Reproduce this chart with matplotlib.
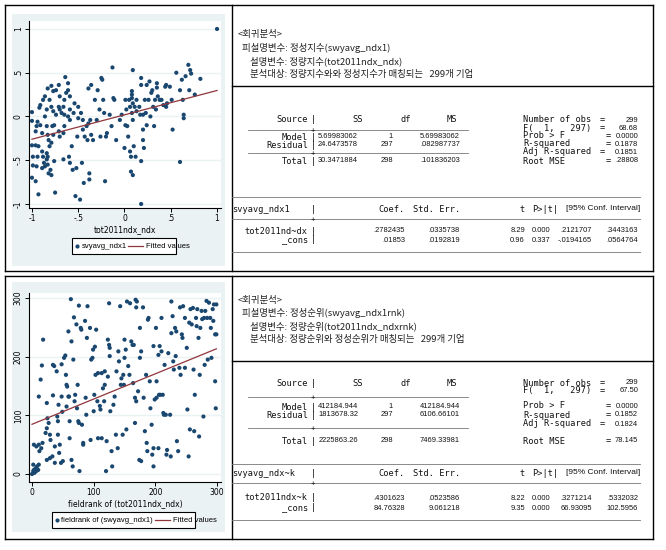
import matplotlib
matplotlib.use("Agg")
import matplotlib.pyplot as plt
import numpy as np
from matplotlib.patches import Rectangle
from matplotlib.lines import Line2D

# ---------------- data ----------------
top_x = [-1.0,-1.0,-1.0,-1.0,-0.99,-0.99,-0.96,-0.96,-0.95,-0.93,-0.94,-0.93,-0.92,-0.96,-0.95,-0.94,-0.91,-0.89,-0.89,-0.88,
         -0.87,-0.89,-0.86,-0.84,-0.84,-0.83,-0.83,-0.82,-0.80,-0.79,-0.81,-0.79,-0.82,-0.83,-0.84,-0.86,-0.88,-0.91,-0.86,-0.83,
         -0.84,-0.81,-0.79,-0.77,-0.78,-0.76,-0.77,-0.76,-0.75,-0.79,-0.77,-0.74,-0.71,-0.70,-0.71,-0.70,-0.68,-0.74,-0.71,-0.70,
         -0.66,-0.66,-0.65,-0.65,-0.66,-0.65,-0.63,-0.64,-0.61,-0.61,-0.59,-0.59,-0.61,-0.59,-0.57,-0.60,-0.59,-0.56,-0.54,-0.55,
         -0.53,-0.52,-0.50,-0.50,-0.48,-0.51,-0.46,-0.44,-0.47,-0.45,-0.45,-0.43,-0.41,-0.40,-0.39,-0.39,-0.38,-0.38,-0.36,-0.37,
         -0.36,-0.34,-0.32,-0.30,-0.29,-0.27,-0.26,-0.25,-0.24,-0.23,-0.22,-0.21,-0.20,-0.19,-0.16,-0.14,-0.13,-0.12,-0.11,-0.09,
         -0.05,-0.03,0.0,0.01,0.01,0.02,0.03,0.04,0.05,0.06,0.06,0.07,0.08,0.08,0.07,0.09,0.09,0.09,0.09,0.10,
         0.11,0.12,0.13,0.08,0.08,0.13,0.16,0.17,0.18,0.18,0.18,0.18,0.20,0.20,0.20,0.21,0.22,0.23,0.24,0.24,
         0.26,0.27,0.28,0.29,0.30,0.31,0.32,0.33,0.34,0.35,0.35,0.36,0.38,0.40,0.42,0.44,0.45,0.45,0.46,0.49,
         0.51,0.52,0.56,0.60,0.60,0.62,0.63,0.64,0.64,0.66,0.69,0.71,0.72,0.70,0.76,0.82,1.0]
top_y = [0.05,-0.05,-0.33,-0.7,-0.46,-0.56,-0.33,-0.74,-0.57,-0.89,-0.46,-0.34,0.1,-0.17,-0.11,-0.06,-0.1,-0.19,-0.4,-0.46,
         -0.53,-0.59,-0.57,-0.42,-0.49,-0.46,-0.55,-0.65,-0.61,-0.67,-0.34,-0.3,-0.27,-0.21,-0.11,0.0,0.19,0.13,0.23,0.32,
         0.08,0.19,0.11,0.06,-0.11,-0.1,-0.21,-0.51,-0.87,0.35,0.29,0.3,0.36,0.23,0.11,0.08,0.04,0.02,-0.17,-0.23,
         -0.49,-0.19,-0.11,0.02,0.11,0.19,0.27,0.45,0.38,0.3,0.23,0.08,0.0,-0.04,-0.34,-0.46,-0.53,-0.61,0.15,0.04,
         -0.91,-0.59,-0.02,0.11,-0.95,-0.23,-0.53,-0.76,0.04,-0.04,-0.15,-0.23,-0.11,-0.27,-0.08,0.32,-0.72,-0.65,0.36,-0.04,
         -0.21,-0.27,0.19,-0.04,0.3,0.08,-0.23,0.44,0.42,0.19,0.04,-0.74,-0.23,-0.19,0.02,-0.11,0.56,0.21,0.19,-0.27,
         -0.04,0.02,-0.36,-0.1,0.19,0.08,-0.11,-0.23,0.19,0.11,-0.4,-0.46,0.21,0.04,-0.63,0.53,-0.67,0.15,-0.04,-0.34,
         0.11,-0.46,0.06,0.29,0.25,0.19,0.11,0.02,0.44,0.36,-0.51,-1.0,-0.27,-0.15,0.02,-0.36,0.19,0.04,0.36,-0.1,
         0.19,0.4,0.0,0.27,0.3,0.11,-0.11,0.19,0.08,0.38,0.33,0.23,0.19,0.19,0.13,0.34,0.36,0.11,0.15,0.34,
         0.19,-0.15,0.5,0.3,-0.52,0.42,0.19,-0.02,0.02,0.46,0.59,0.53,0.49,0.3,0.25,0.43,1.0]
top_coef = (0.01853, 0.2782435)   # _cons, slope

bot_x = [0,2,3,4,6,7,8,2,10,11,3,7,11,12,15,17,16,14,11,18,22,24,24,25,27,29,30,29,33,24,
         34,36,34,37,37,40,41,42,42,43,44,45,47,48,48,49,50,52,54,55,56,56,57,59,59,60,61,61,63,64,
         64,66,67,68,69,70,72,73,74,75,76,76,77,79,80,81,83,83,86,87,88,89,90,94,95,96,98,99,100,101,
         102,103,104,106,107,107,110,111,113,113,115,117,118,118,120,121,123,123,125,126,126,125,127,129,130,132,134,136,137,139,
         140,141,143,144,145,147,148,149,150,150,152,153,154,156,158,159,161,163,164,165,167,167,168,169,169,170,172,174,175,175,
         177,177,180,181,183,185,186,187,188,189,191,192,194,195,197,197,197,199,201,202,202,205,205,206,207,208,210,210,212,213,
         214,215,217,218,219,221,224,225,226,226,228,229,230,232,233,234,235,237,239,240,241,243,244,245,248,248,251,252,254,255,
         256,257,259,261,262,263,264,266,267,268,270,271,272,273,275,276,278,279,280,281,283,284,285,287,289,290,291,293,294,295,
         297,297,298,299,299]
bot_y = [0,5,7,2,10,5,13,16,7,16,50,47,50,39,44,53,185,161,132,229,70,121,78,95,87,67,58,27,30,24,
         186,184,134,19,47,175,98,90,67,118,36,50,19,187,132,106,22,198,202,169,152,115,149,132,243,132,90,61,298,226,
         24,13,195,267,124,135,255,112,152,90,287,87,5,249,246,84,53,50,261,130,101,232,286,249,58,195,198,212,107,135,
         217,169,246,124,61,172,116,110,61,172,146,124,175,152,5,56,166,229,220,215,201,291,107,39,13,118,132,67,175,44,
         209,192,286,152,163,67,169,152,229,198,212,76,294,184,169,291,226,220,155,220,130,87,297,284,124,294,141,24,249,198,
         209,22,284,130,73,169,53,39,263,266,158,112,84,33,44,218,13,127,249,158,130,203,44,135,218,135,266,209,135,104,
         101,186,101,33,41,206,101,30,294,240,269,192,178,249,201,243,56,39,181,284,169,238,232,286,266,181,215,110,30,258,
         76,281,255,283,178,73,135,266,252,281,232,64,169,249,278,264,98,266,186,278,295,266,195,292,266,249,198,281,261,289,
         238,158,112,289,238]
bot_coef = (84.76328, 0.4301623)

# text content
hdr1 = ["<회귀분석>", "피설명변수: 정성지수(swyavg_ndx1)", "설명변수: 정량지수(tot2011ndx_ndx)",
        "분석대상: 정량지수와와 정성지수가 매칭되는   299개 기업"]
hdr2 = ["<회귀분석>", "피설명변수: 정성순위(swyavg_ndx1rnk)", "설명변수: 정량순위(tot2011ndx_ndxrnk)",
        "분석대상: 정량순위와 정성순위가 매칭되는   299개 기업"]
anova1 = [["Model", "5.69983062", "1", "5.69983062"],
          ["Residual", "24.6473578", "297", ".082987737"],
          ["Total", "30.3471884", "298", ".101836203"]]
anova2 = [["Model", "412184.944", "1", "412184.944"],
          ["Residual", "1813678.32", "297", "6106.66101"],
          ["Total", "2225863.26", "298", "7469.33981"]]
stats1 = ["299", "68.68", "0.0000", "0.1878", "0.1851", ".28808"]
stats2 = ["299", "67.50", "0.0000", "0.1852", "0.1824", "78.145"]
coef1 = ["svyavg_ndx1", [["tot2011nd~dx", ".2782435", ".0335738", "8.29", "0.000", ".2121707", ".3443163"],
                         ["_cons", ".01853", ".0192819", "0.96", "0.337", "-.0194165", ".0564764"]]]
coef2 = ["svyavg_ndx~k", [["tot2011ndx~k", ".4301623", ".0523586", "8.22", "0.000", ".3271214", ".5332032"],
                          ["_cons", "84.76328", "9.061218", "9.35", "0.000", "66.93095", "102.5956"]]]

# ---------------- fonts ----------------
NUMF = dict(family="Liberation Sans", fontsize=5.4)
LABF = dict(family="DejaVu Sans Mono", fontsize=6.2)

# ---------------- figure ----------------
W, H = 666, 550
fig = plt.figure(figsize=(W/100, H/100), dpi=100)
fig.patch.set_facecolor("white")
bg = fig.add_axes([0, 0, 1, 1], zorder=0)
bg.set_xlim(0, W); bg.set_ylim(H, 0); bg.axis("off")

KFONT = ["Noto Sans CJK KR", "DejaVu Sans"]
SFONT = "Liberation Sans"
NAVY = "#1a476f"; MAROON = "#90353b"; GRAPHBG = "#eaf2f3"

def hline(x0, x1, y, c="black", lw=1.0):
    bg.add_line(Line2D([x0, x1], [y, y], color=c, lw=lw))
def vline(x, y0, y1, c="black", lw=1.0):
    bg.add_line(Line2D([x, x], [y0, y1], color=c, lw=lw))

# table borders
for (t, b) in [(5, 271), (276, 539)]:
    hline(5, 653, t); hline(5, 653, b); vline(5, t, b); vline(653, t, b); vline(232, t, b)
hline(232, 653, 86)
hline(232, 653, 361)

# graph regions
for (t, b) in [(14, 266), (282, 532)]:
    bg.add_patch(Rectangle((12, t), 213, b - t, facecolor=GRAPHBG, edgecolor="none"))

def px_axes(l, t, r, b):
    return fig.add_axes([l/W, 1 - b/H, (r - l)/W, (b - t)/H], zorder=2)

def style(ax):
    ax.set_facecolor("white")
    for s in ["top", "right"]:
        ax.spines[s].set_visible(False)
    for s in ["left", "bottom"]:
        ax.spines[s].set_color("black"); ax.spines[s].set_linewidth(0.8)
    ax.tick_params(length=3, width=0.7, labelsize=5.5, pad=1.5, colors="black")
    ax.grid(axis="y", color=GRAPHBG, lw=1.0)
    ax.set_axisbelow(True)

# top scatter
ax1 = px_axes(29, 21, 221, 208)
style(ax1)
ax1.scatter(top_x, top_y, s=9, color=NAVY, edgecolors="none", zorder=3)
xs = np.array([min(top_x), max(top_x)])
ax1.plot(xs, top_coef[0] + top_coef[1]*xs, color=MAROON, lw=0.9, zorder=4)
ax1.set_xlim(-1.032, 1.043); ax1.set_ylim(-1.046, 1.091)
ax1.set_xticks([-1, -0.5, 0, 0.5, 1]); ax1.set_xticklabels(["-1", "-.5", "0", ".5", "1"])
ax1.set_yticks([-1, -0.5, 0, 0.5, 1]); ax1.set_yticklabels(["-1", "-.5", "0", ".5", "1"], rotation=90, va="center")
ax1.set_xlabel("tot2011ndx_ndx", fontsize=5.5, labelpad=1)

# bottom scatter
ax2 = px_axes(29, 293, 221, 482)
style(ax2)
ax2.scatter(bot_x, bot_y, s=9, color=NAVY, edgecolors="none", zorder=3)
xs = np.array([min(bot_x), max(bot_x)])
ax2.plot(xs, bot_coef[0] + bot_coef[1]*xs, color=MAROON, lw=0.9, zorder=4)
ax2.set_xlim(-4.9, 306.5); ax2.set_ylim(-13.6, 308.5)
ax2.set_xticks([0, 100, 200, 300]); ax2.set_yticks([0, 100, 200, 300])
ax2.set_yticklabels(["0", "100", "200", "300"], rotation=90, va="center")
ax2.set_xlabel("fieldrank of (tot2011ndx_ndx)", fontsize=5.5, labelpad=1)

# legends
def legend(l, t, r, b, lab1, mx, tx1, lx0, lx1, tx2):
    bg.add_patch(Rectangle((l, t), r - l, b - t, facecolor="white", edgecolor="black", lw=0.8))
    yc = (t + b)/2
    bg.plot([mx], [yc], "o", ms=3, color=NAVY, mec="none")
    bg.text(tx1, yc, lab1, fontsize=5.5, va="center", ha="left", family=SFONT)
    bg.plot([lx0, lx1], [yc, yc], color=MAROON, lw=0.9)
    bg.text(tx2, yc, "Fitted values", fontsize=5.5, va="center", ha="left", family=SFONT)

legend(72, 238, 176, 254, "svyavg_ndx1", 77, 82, 128, 143, 146)
legend(52, 512, 195, 528, "fieldrank of (swyavg_ndx1)", 57, 61, 155, 170, 173)

# header texts
def header(lines, y0):
    xs_ = [238, 242, 250, 250]
    for i, (s, x) in enumerate(zip(lines, xs_)):
        bg.text(x, y0 + 13*i, s, fontsize=6.8, va="center", ha="left", family=KFONT, color="#222222")

header(hdr1, 35)
header(hdr2, 300)

def L(x, y, s, ha="right", size=None):
    f = dict(LABF)
    if size:
        f["fontsize"] = size
    bg.text(x, y, s, va="center", ha=ha, color="#111111", **f)
def N(x, y, s, ha="right", size=None):
    f = dict(NUMF)
    if size:
        f["fontsize"] = size
    bg.text(x, y, s, va="center", ha=ha, color="#111111", **f)

def dline(x0, x1, y, plus=313):
    hline(x0, x1, y, c="#777777", lw=0.6)
    L(plus, y, "+", ha="center", size=5)

def stata(S, anova, stats, coef, rows):
    y = lambda k: S + rows[k]
    L(308, y("src"), "Source"); L(313, y("src"), "|", ha="center")
    L(358, y("src"), "SS", ha="center"); L(406, y("src"), "df", ha="center"); L(452, y("src"), "MS", ha="center")
    dline(248, 468, y("l1"))
    for key, r in zip(["mod", "res", "tot"], anova):
        L(308, y(key), r[0]); L(313, y(key), "|", ha="center")
        N(358, y(key), r[1]); N(393, y(key), r[2]); N(460, y(key), r[3])
    dline(248, 468, y("l2"))
    labs = [("Number of obs", 602), ("F(  1,   297)", 602), ("Prob > F", 608),
            ("R-squared", 608), ("Adj R-squared", 602), ("Root MSE", 608)]
    for key, (lab, eqx), v in zip(["s1", "s2", "s3", "s4", "s5", "s6"], labs, stats):
        L(523, y(key), lab, ha="left"); L(eqx, y(key), "=", ha="center"); N(638, y(key), v)
    hline(232, 640, y("l3"), c="#777777", lw=0.6)
    L(232, y("ch"), coef[0], ha="left"); L(313, y("ch"), "|", ha="center")
    L(405, y("ch"), "Coef."); L(460, y("ch"), "Std. Err."); L(525, y("ch"), "t")
    L(558, y("ch"), "P>|t|"); N(640, y("ch"), "[95% Conf. Interval]", size=6.0)
    dline(232, 640, y("l4"))
    for key, r in zip(["c1", "c2"], coef[1]):
        L(308, y(key), r[0]); L(313, y(key), "|", ha="center")
        for xx, v in zip([405, 460, 525, 550, 592, 638], r[1:]):
            N(xx, y(key), v)
    hline(232, 640, y("l5"), c="#777777", lw=0.6)

rows_top = dict(src=0, l1=10, mod=17, res=25, l2=33, tot=41, s1=0, s2=8, s3=16, s4=24, s5=32, s6=41,
                l3=77, ch=89, l4=99, c1=111, c2=120, l5=132)
rows_bot = dict(src=0, l1=14, mod=24, res=32, l2=45, tot=58, s1=0, s2=8, s3=23, s4=32, s5=41, s6=58,
                l3=81, ch=90, l4=100, c1=115, c2=125, l5=137)
stata(120, anova1, stats1, coef1, rows_top)
stata(383, anova2, stats2, coef2, rows_bot)

fig.savefig("out.png", dpi=100)
